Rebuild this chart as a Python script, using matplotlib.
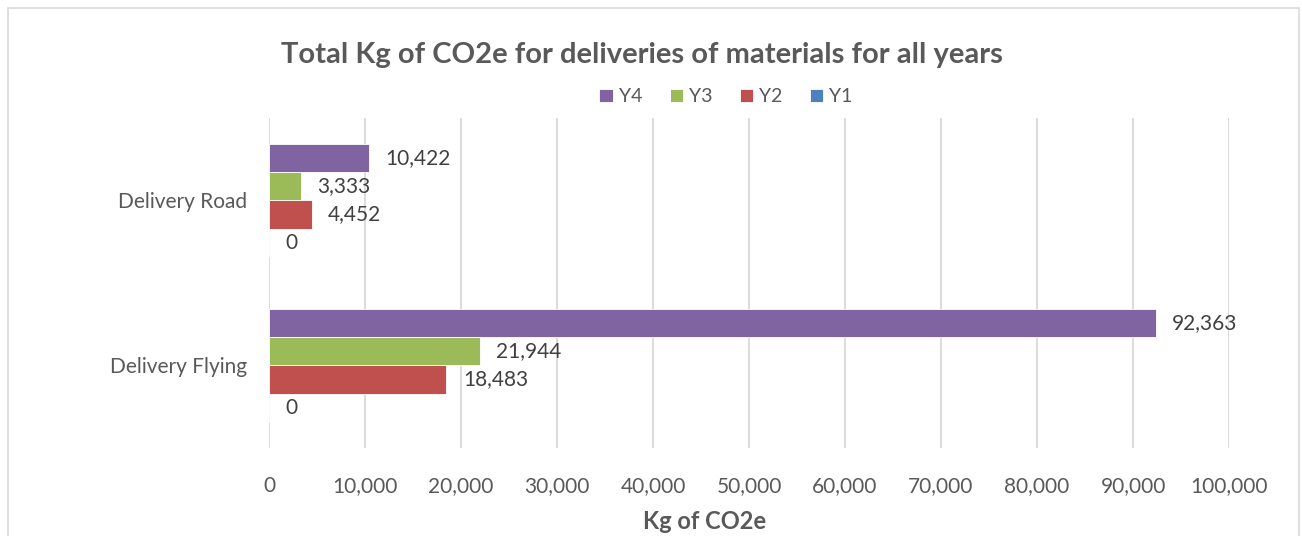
import numpy as np
import matplotlib.pyplot as plt
from matplotlib.patches import Rectangle

# datos
categorias = ["Delivery Road", "Delivery Flying"]
series = ["Y4", "Y3", "Y2", "Y1"]
y4 = [10422, 92363]
y3 = [3333, 21944]
y2 = [4452, 18483]
y1 = [0, 0]
colores = ["#8064A2", "#9BBB59", "#C0504D", "#4F81BD"]

plt.rcParams['font.family'] = ['Lato', 'DejaVu Sans']

fig = plt.figure(figsize=(13.02, 5.36), dpi=100)
ax = fig.add_axes([0.2066, 0.1642, 0.9440 - 0.2066, 0.7799 - 0.1642])

# marco del grafico
fig.patches.append(Rectangle((8 / 1302, -0.01), (1299 - 8) / 1302, 1 - 8 / 536 + 0.01,
                             transform=fig.transFigure, fill=False,
                             edgecolor="#D9D9D9", linewidth=1.2))

pos = np.arange(len(categorias))
h = 0.17
valores = [y4, y3, y2, y1]
for k, (nombre, vals) in enumerate(zip(series, valores)):
    off = (k - 1.5) * h
    ax.barh(pos + off, vals, height=h, color=colores[k], label=nombre,
            edgecolor="white", linewidth=0.6, zorder=3)
    for p, v in zip(pos, vals):
        ax.text(v + 1700, p + off, f"{v:,}", va="center", ha="left",
                fontsize=15, color="#404040", zorder=4)

ax.set_xlim(0, 100000)
ax.set_ylim(1.5, -0.5)
ax.set_xticks(np.arange(0, 100001, 10000))
ax.set_xticklabels([f"{t:,}" for t in range(0, 100001, 10000)])
ax.set_yticks(pos)
ax.set_yticklabels(categorias)
ax.tick_params(axis="both", length=0, labelsize=15, colors="#595959")
ax.tick_params(axis="x", pad=20)
ax.tick_params(axis="y", pad=16)
ax.grid(axis="x", color="#D9D9D9", linewidth=1.3, zorder=0)
for s in ax.spines.values():
    s.set_visible(False)

ax.set_xlabel("Kg of CO2e", fontsize=17, fontweight="bold", color="#595959")
ax.xaxis.set_label_coords(0.454, -0.188)
fig.text(0.493, 0.898, "Total Kg of CO2e for deliveries of materials for all years",
         ha="center", va="center", fontsize=21, fontweight="bold", color="#595959")

ax.legend(loc="center", bbox_to_anchor=(0.476, 1.064), ncol=4, frameon=False,
          fontsize=14, labelcolor="#595959", handlelength=0.7, handleheight=0.7,
          handletextpad=0.3, columnspacing=1.4)

plt.savefig("out.png", dpi=100)
